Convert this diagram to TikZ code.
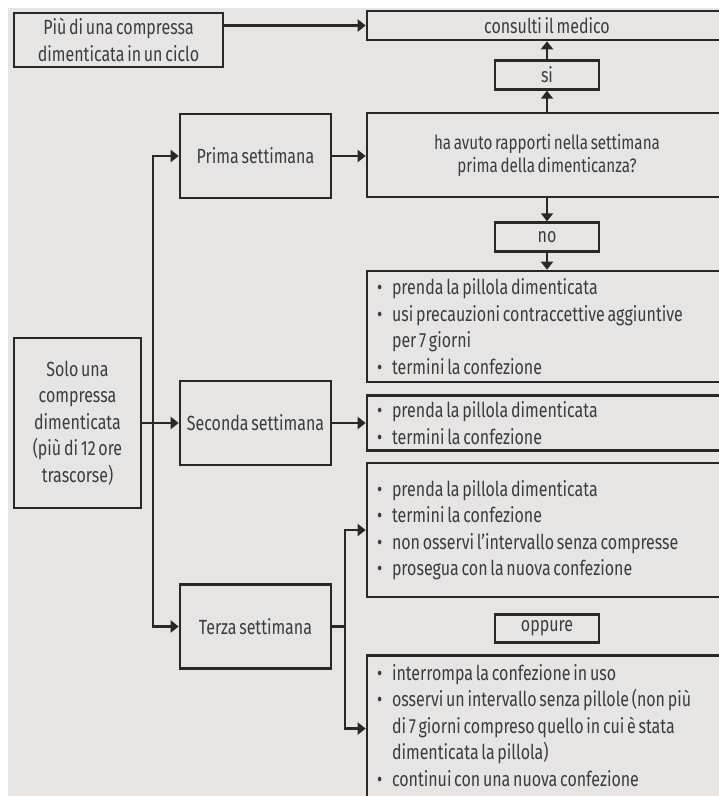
\documentclass[tikz,border=0pt]{standalone}
\usepackage{fontspec}
\setmainfont{Fira Sans}[FakeStretch=0.78, WordSpace=0.65]
\usetikzlibrary{positioning,arrows.meta}
\definecolor{sfondo}{HTML}{E6E5E3}
\definecolor{tratto}{HTML}{2B2724}
\definecolor{testo}{HTML}{3C3C3E}
\newcommand{\voce}{\makebox[15pt][l]{\textbullet}}
\newcommand{\rientro}{\hspace*{15pt}}
\begin{document}
\begin{tikzpicture}[x=1pt, y=-1pt,
            box/.style = {draw=tratto, line width=2.6pt, text=testo, inner sep=0pt, align=center,
                          font=\fontsize{20.5}{26.5}\selectfont},
            piccolo/.style = {box, minimum width=104pt, minimum height=29pt},
            passo/.style = {box, minimum width=151pt, minimum height=84pt},
            lista/.style = {box, minimum width=360pt, text width=340pt, align=left,
                            execute at begin node={\spaceskip=0pt\xspaceskip=0pt}},
            linea/.style = {draw=tratto, line width=2.6pt},
            freccia/.style = {linea, -{Triangle[length=8pt,width=12pt]}}]
            \useasboundingbox (0,0) rectangle (719,796);
            \clip (0,0) rectangle (719,796);
            \fill[white] (0,0) rectangle (719,796);
            \fill[sfondo] (8,8) rectangle (719,796);
            \node[box, minimum width=209pt, minimum height=54pt] (piu) at (118.5,40) {Più di una compressa\\dimenticata in un ciclo};
            \node[box, minimum width=360pt, minimum height=29pt] (medico) at (547,25.5) {consulti il medico};
            \node[box, minimum width=360pt, minimum height=84pt, font=\fontsize{19.5}{23}\selectfont] (domanda) at (547,155) {ha avuto rapporti nella settimana\\prima della dimenticanza?};
            \node[piccolo] (si) [above=21pt of domanda] {si};
            \node[piccolo] (no) [below=23pt of domanda] {no};
            \node[box, minimum width=127pt, minimum height=170pt] (solo) at (77.5,423) {Solo una\\compressa\\dimenticata\\(più di 12 ore\\trascorse)};
            \node[passo] (prima) at (255.5,156) {Prima settimana};
            \node[passo] (seconda) at (255.5,423) {Seconda settimana};
            \node[passo] (terza) at (255.5,626.5) {Terza settimana};
            \node[lista, minimum height=111pt] (lista1) at (547,326.5) {\voce prenda la pillola dimenticata\\ \voce usi precauzioni contraccettive aggiuntive\\ \rientro per 7 giorni\\ \voce termini la confezione};
            \node[lista, minimum height=55pt] (lista2) at (547,423) {\voce prenda la pillola dimenticata\\ \voce termini la confezione};
            \node[lista, minimum height=134pt] (lista3) at (547,530) {\voce prenda la pillola dimenticata\\ \voce termini la confezione\\ \voce non osservi l’intervallo senza compresse\\ \voce prosegua con la nuova confezione};
            \node[piccolo, minimum height=28pt] (oppure) [below=15pt of lista3] {oppure};
            \node[lista, minimum height=166.5pt, anchor=north] (lista4) at (547,654) {\voce interrompa la confezione in uso\\ \voce osservi un intervallo senza pillole (non più\\ \rientro di 7 giorni compreso quello in cui è stata\\ \rientro dimenticata la pillola)\\ \voce continui con una nuova confezione\\ \mbox{}};
            \coordinate (nodo) at (153,423);
            \coordinate (nodo2) at (345,626.5);
            \draw[freccia] (piu.east |- medico.west) -- (medico.west);
            \draw[freccia] (domanda) -- (si);
            \draw[freccia] (si) -- (medico);
            \draw[freccia] (domanda) -- (no);
            \draw[freccia] (no) -- (lista1);
            \draw[freccia] (prima.east) -- (domanda.west |- prima.east);
            \draw[freccia] (seconda.east) -- (lista2.west);
            \draw[linea] (solo.east) -- (nodo);
            \draw[freccia] (nodo) |- (prima.west);
            \draw[freccia] (nodo) |- (terza.west);
            \draw[freccia] (nodo) -- (seconda.west);
            \draw[linea] (terza.east) -- (nodo2);
            \draw[freccia] (nodo2) |- (lista3.west);
            \draw[freccia] (nodo2) |- ([yshift=10pt]lista4.west);
        \end{tikzpicture}
\end{document}
